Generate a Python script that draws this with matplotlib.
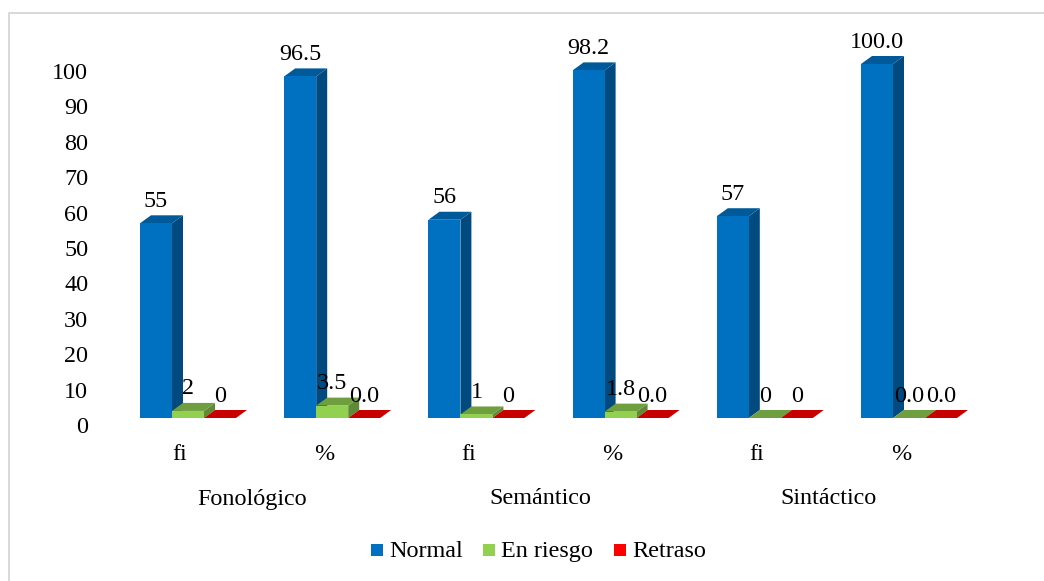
import matplotlib
matplotlib.use('Agg')
import matplotlib.pyplot as plt
from matplotlib.patches import Polygon, Rectangle
from matplotlib.lines import Line2D

plt.rcParams['font.family'] = ['Liberation Serif', 'DejaVu Serif']

# Data
categories = ['fi', '%', 'fi', '%', 'fi', '%']
groups = ['Fonológico', 'Semántico', 'Sintáctico']
normal = [55, 96.5, 56, 98.2, 57, 100.0]
en_riesgo = [2, 3.5, 1, 1.8, 0, 0.0]
retraso = [0, 0.0, 0, 0.0, 0, 0.0]
series_names = ['Normal', 'En riesgo', 'Retraso']

W, H = 1044, 581
fig = plt.figure(figsize=(W / 100, H / 100), dpi=100)

# axes placed so that 0 sits at y=425px and 100 at y=71px, first category at x=180px
px_x = 144.2
px_y = 3.54
left, right = 100, 1000
ax = fig.add_axes([left / W, 1 - 425 / H, (right - left) / W, 354 / H])
ax.set_xlim((left - 180) / px_x, (right - 180) / px_x)
ax.set_ylim(0, 100)

bar_w = 32 / px_x
floor = 7 / px_y
depth_x = 11 / px_x
depth_y = 8 / px_y
shift = 8 / px_x
font_size = 17.4

colors = ['#0070C0', '#92D050', '#FF0000']
side_colors = ['#004A80', '#5F8A38', '#A80000']
top_colors = ['#005A9A', '#6F9E3E', '#C80000']
fmt_fi = '{:.0f}'
fmt_pct = '{:.1f}'


def draw_series(values, k):
    for i, v in enumerate(values):
        x0 = i + shift + (k - 1.5) * bar_w
        x1 = x0 + bar_w
        y0 = floor
        y1 = floor + v
        # side and top first, front on top
        ax.add_patch(Polygon([(x1, y0), (x1 + depth_x, y0 + depth_y), (x1 + depth_x, y1 + depth_y), (x1, y1)],
                             facecolor=side_colors[k], edgecolor='none', zorder=2 + k, clip_on=False))
        ax.add_patch(Polygon([(x0, y1), (x1, y1), (x1 + depth_x, y1 + depth_y), (x0 + depth_x, y1 + depth_y)],
                             facecolor=top_colors[k], edgecolor='none', zorder=2 + k, clip_on=False))
        bars = ax.bar(x0, v, bar_w, bottom=y0, align='edge', color=colors[k], linewidth=0, zorder=2 + k)
        bars[0].set_clip_on(False)
        fmt = fmt_fi if categories[i] == 'fi' else fmt_pct
        ax.annotate(fmt.format(v), (x0 + bar_w / 2, y1), xytext=(0, 22 * 0.72), textcoords='offset points',
                    ha='center', va='center', fontsize=font_size, color='black', zorder=10,
                    annotation_clip=False)


draw_series(normal, 0)
draw_series(en_riesgo, 1)
draw_series(retraso, 2)

for s in ax.spines.values():
    s.set_visible(False)
ax.patch.set_visible(False)
ax.set_yticks(range(0, 101, 10))
ax.set_xticks(range(len(categories)))
ax.set_xticklabels(categories)
ax.tick_params(axis='both', length=0, labelsize=font_size)
ax.tick_params(axis='x', pad=13.5)
ax.tick_params(axis='y', pad=8.5)

# group labels under each pair of categories
for j, g in enumerate(groups):
    ax.text(2 * j + 0.5, -74 / 354, g, transform=ax.get_xaxis_transform(),
            ha='center', va='center', fontsize=font_size)

# outer frame, only top and left show in the picture
fig.add_artist(Line2D([9 / W, 9 / W, 1], [0, 1 - 13 / H, 1 - 13 / H], transform=fig.transFigure,
                      color='#D9D9D9', linewidth=1.44))

# legend squares and names placed by hand
legend_x = [371, 483, 614]
for name, c, lx in zip(series_names, colors, legend_x):
    fig.add_artist(Rectangle((lx / W, 1 - 556 / H), 12 / W, 12 / H, transform=fig.transFigure,
                             facecolor=c, edgecolor='none'))
    fig.text((lx + 18) / W, 1 - 557 / H, name, ha='left', va='baseline', fontsize=font_size)

fig.savefig('out.png', dpi=100)
